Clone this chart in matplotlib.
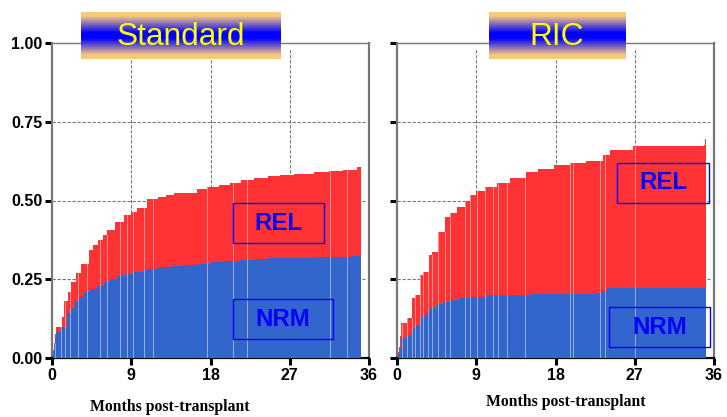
import numpy as np
import matplotlib
matplotlib.use("Agg")
import matplotlib.pyplot as plt
from matplotlib.colors import LinearSegmentedColormap
from matplotlib.patches import Rectangle

# ---------------- data ----------------
panel_titles = ["Standard", "RIC"]
xticks = [0, 9, 18, 27, 36]
yticks = [0.00, 0.25, 0.50, 0.75, 1.00]
ytick_labels = ["0.00", "0.25", "0.50", "0.75", "1.00"]
xlabel = "Months post-transplant"
end_time = 35.1

# Standard: NRM (bottom) and NRM+REL (total)
std_nrm_t = [0, 0.1, 0.2, 0.35, 0.5, 1.0, 1.7, 2.2, 2.6, 3.1, 3.6, 4.3, 5.1, 5.9, 6.6, 7.4, 8.3, 9.3,
             10.5, 11.9, 13.5, 14.9, 16.5, 18.0, 19.5, 21.4, 23.0, 24.4, 27.0, 30.0, 32.0, 34.0, 35.0]
std_nrm_v = [0, 0.02, 0.04, 0.06, 0.083, 0.10, 0.143, 0.16, 0.18, 0.195, 0.21, 0.22, 0.23, 0.24, 0.25,
             0.26, 0.267, 0.274, 0.282, 0.29, 0.292, 0.295, 0.30, 0.304, 0.307, 0.311, 0.315, 0.318,
             0.319, 0.32, 0.321, 0.325, 0.327]
std_tot_t = [0, 0.1, 0.2, 0.35, 0.5, 1.1, 1.4, 1.8, 2.2, 2.7, 3.3, 4.2, 4.7, 5.2, 5.8, 6.3, 7.2, 8.2,
             9.0, 9.7, 10.8, 12.0, 13.0, 13.8, 15.3, 16.5, 17.6, 19.0, 20.2, 21.5, 22.9, 24.5, 25.9,
             27.5, 29.7, 31.5, 33.1, 34.6, 35.0]
std_tot_v = [0, 0.024, 0.047, 0.075, 0.10, 0.13, 0.18, 0.21, 0.24, 0.27, 0.30, 0.343, 0.36, 0.375,
             0.39, 0.406, 0.433, 0.454, 0.465, 0.475, 0.504, 0.51, 0.518, 0.523, 0.525, 0.535,
             0.544, 0.55, 0.556, 0.565, 0.573, 0.577, 0.581, 0.585, 0.591, 0.593, 0.597, 0.605,
             0.605]
std_censor = [0.34, 1.0, 1.48, 2.05, 3.0, 3.94, 5.45, 6.2, 7.7, 8.5, 9.24, 10.4, 11.5, 17.6,
              20.6, 22.1, 31.6, 33.5]

# RIC
ric_nrm_t = [0, 0.15, 0.3, 0.5, 1.1, 1.7, 2.2, 2.6, 3.2, 3.75, 4.5, 5.2, 6.0, 7.2, 8.3, 10.0,
             15.1, 22.7, 23.1, 23.8, 35.0]
ric_nrm_v = [0.0, 0.012, 0.03, 0.062, 0.073, 0.094, 0.105, 0.131, 0.142, 0.158, 0.171, 0.178,
             0.184, 0.19, 0.193, 0.2, 0.202, 0.205, 0.213, 0.221, 0.223]
ric_tot_t = [0, 0.1, 0.2, 0.35, 0.5, 1.1, 1.7, 2.05, 2.6, 3.0, 3.6, 4.0, 4.7, 5.5, 6.0, 6.8, 7.7,
             8.3, 9.0, 10.0, 11.3, 12.8, 14.7, 16.0, 17.8, 19.7, 21.5, 23.4, 24.2, 26.8, 34.9, 35.0]
ric_tot_v = [0, 0.018, 0.036, 0.07, 0.11, 0.126, 0.19, 0.2, 0.263, 0.274, 0.327, 0.337, 0.40,
             0.449, 0.459, 0.48, 0.50, 0.517, 0.53, 0.544, 0.556, 0.57, 0.591, 0.60, 0.613,
             0.618, 0.625, 0.644, 0.66, 0.674, 0.676, 0.694]
ric_censor = [0.53, 1.1, 1.67, 2.05, 2.6, 3.0, 3.56, 3.94, 4.7, 5.45, 6.0, 7.7, 8.3, 9.05, 10.0,
              10.95, 11.5, 12.5, 14.5, 19.7, 20.0, 23.1, 23.6, 27.05]

RED = "#FF3333"
BLUE = "#3366CC"
TXT_BLUE = "#0000FF"

W, H = 727, 417
fig = plt.figure(figsize=(W / 100, H / 100), dpi=100)
fig.patch.set_facecolor("white")

def fx(px):
    return px / W

def fy(py):
    return 1 - py / H

panels = [
    dict(x0=52, x1=369, nrm=(std_nrm_t, std_nrm_v), tot=(std_tot_t, std_tot_v), cens=std_censor,
         title=panel_titles[0], tbox=(81, 281), rel=(233, 203, 324, 243), nrmb=(233, 299, 333, 339),
         labels=True, xlab=(170, 407)),
    dict(x0=397, x1=714, nrm=(ric_nrm_t, ric_nrm_v), tot=(ric_tot_t, ric_tot_v), cens=ric_censor,
         title=panel_titles[1], tbox=(489, 625), rel=(617, 163, 709, 203), nrmb=(609, 307, 710, 347),
         labels=False, xlab=(566, 402)),
]

top_px, bot_px = 43, 358
cmap = LinearSegmentedColormap.from_list(
    "tb", [(0, "#FAC97E"), (0.08, "#FAC97E"), (0.44, "#0000FF"), (0.56, "#0000FF"),
           (0.92, "#FAC97E"), (1, "#FAC97E")])


def step_ext(t, v):
    t = list(t) + [end_time]
    v = list(v) + [v[-1]]
    return np.array(t), np.array(v)


for p in panels:
    ax = fig.add_axes([fx(p["x0"]), fy(bot_px), fx(p["x1"] - p["x0"]), (bot_px - top_px) / H])
    ax.set_xlim(0, 36)
    ax.set_ylim(0, 1)
    tt, tv = step_ext(*p["tot"])
    nt, nv = step_ext(*p["nrm"])
    ax.fill_between(tt, 0, tv, step="post", color=RED, lw=0, zorder=2)
    ax.fill_between(nt, 0, nv, step="post", color=BLUE, lw=0, zorder=3)
    # censor marks (thin light lines)
    for c in p["cens"]:
        h = tv[np.searchsorted(tt, c, side="right") - 1]
        ax.plot([c, c], [0, h], color="white", lw=0.6, alpha=0.55, zorder=4)
    # grid
    for gx in [9, 18, 27]:
        ax.plot([gx, gx], [0, 0.985], color="#777777", lw=0.8, ls=(0, (3, 1.5)), zorder=1)
    for gy in [0.25, 0.5, 0.75]:
        ax.plot([0, 35.6], [gy, gy], color="#777777", lw=0.8, ls=(0, (3, 1.5)), zorder=1)
    for s in ["left", "top", "right"]:
        ax.spines[s].set_color("#777777")
    ax.spines["left"].set_linewidth(1.6)
    ax.spines["right"].set_linewidth(1.6)
    ax.spines["top"].set_linewidth(1.0)
    ax.spines["bottom"].set_color("black")
    ax.spines["bottom"].set_linewidth(1.6)
    ax.set_xticks(xticks)
    ax.set_xticklabels([str(x) for x in xticks], fontsize=11.5, fontweight="bold",
                       family="Liberation Sans")
    ax.set_yticks(yticks)
    if p["labels"]:
        ax.set_yticklabels(ytick_labels, fontsize=11.5, fontweight="bold", family="Liberation Sans")
    else:
        ax.set_yticklabels([])
    ax.tick_params(axis="both", direction="out", length=5, width=2.2, color="black", pad=2)
    # xlabel
    fig.text(fx(p["xlab"][0]), fy(p["xlab"][1]), xlabel, ha="center", va="center",
             fontsize=11.3, fontweight="bold", family="Liberation Serif")
    # REL / NRM boxes
    for (bx0, by0, bx1, by1), lab in [(p["rel"], "REL"), (p["nrmb"], "NRM")]:
        fig.patches.append(Rectangle((fx(bx0), fy(by1)), fx(bx1 - bx0), (by1 - by0) / H,
                                     transform=fig.transFigure, fill=False, ec=TXT_BLUE, lw=1.0,
                                     zorder=10))
        fig.text(fx((bx0 + bx1) / 2), fy((by0 + by1) / 2), lab, ha="center", va="center",
                 fontsize=17.3, fontweight="bold", color=TXT_BLUE, family="Liberation Sans",
                 zorder=11)
    # gradient title box
    tx0, tx1 = p["tbox"]
    tax = fig.add_axes([fx(tx0), fy(59), fx(tx1 - tx0), 47 / H], zorder=20)
    grad = np.linspace(0, 1, 200).reshape(-1, 1)
    tax.imshow(grad, aspect="auto", cmap=cmap, extent=[0, 1, 0, 1])
    tax.set_axis_off()
    tax.text(0.5, 0.46, p["title"], ha="center", va="center", fontsize=22.8, color="#FFFF00",
             family="Liberation Sans", transform=tax.transAxes)

fig.savefig("out.png", dpi=100)
